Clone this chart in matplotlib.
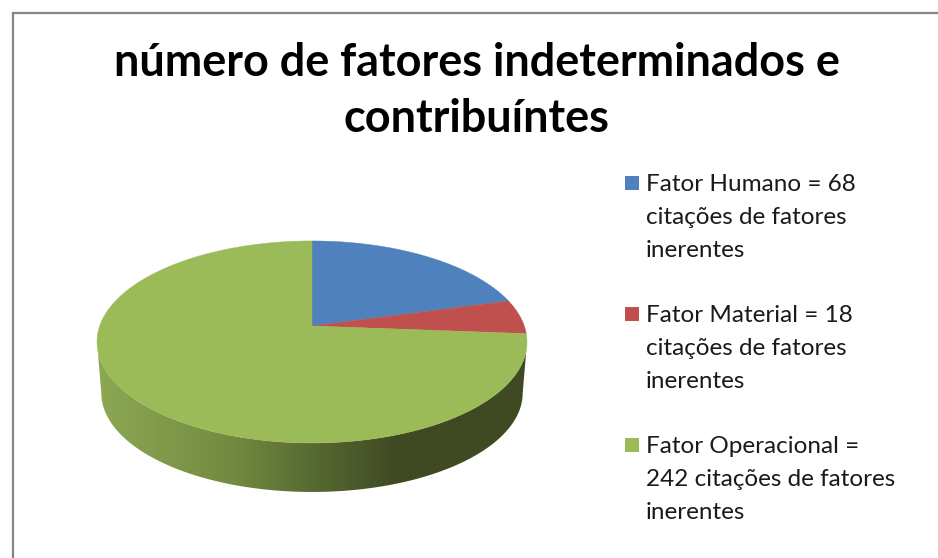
# Recreate the 3D style pie chart
import numpy as np
import matplotlib
matplotlib.use('Agg')
import matplotlib.pyplot as plt
from matplotlib.colors import LinearSegmentedColormap
from matplotlib.patches import PathPatch, Rectangle
from matplotlib.path import Path

plt.rcParams['font.family'] = ['Lato', 'DejaVu Sans']

# Data
title_lines = ['número de fatores indeterminados e', 'contribuíntes']
factor_names = ['Fator Humano', 'Fator Material', 'Fator Operacional']
citations = [68, 18, 242]
legend_lines = [
    ['Fator Humano = 68', 'citações de fatores', 'inerentes'],
    ['Fator Material = 18', 'citações de fatores', 'inerentes'],
    ['Fator Operacional =', '242 citações de fatores', 'inerentes'],
]
colors = ['#4F81BD', '#C0504D', '#9BBB59']

W, H = 938, 558
k = 0.158


# Circle of the pie to picture pixels, with a bit of perspective
def project(u, v):
    d = 1 + k * v
    return 312 + 212.3 * u / d, 326 - 98.5 * v / d


fig = plt.figure(figsize=(W / 100, H / 100), dpi=100)
ax = fig.add_axes([0, 0, 1, 1])
ax.set_xlim(0, W)
ax.set_ylim(H, 0)
ax.axis('off')

# Frame, only top and left show in the crop
ax.plot([13, 13, W], [H, 12.5, 12.5], color='#868686', lw=1.6, solid_joinstyle='miter')

# Side wall of the pie, between the widest points of the rim
t = np.linspace(np.arcsin(k), np.pi - np.arcsin(k), 300)
rim_x, rim_y = project(np.cos(t), -np.sin(t))
low_x = 312 + (rim_x - 312) * 0.98
low_y = 393 + (rim_y - 342) * 0.98
wall = np.column_stack([np.r_[rim_x, low_x[::-1]], np.r_[rim_y, low_y[::-1]]])
wall_patch = PathPatch(Path(np.vstack([wall, wall[0]]), closed=True), transform=ax.transData,
                       fc='none', ec='none')
ax.add_patch(wall_patch)
wall_cmap = LinearSegmentedColormap.from_list('wall', [
    (0.0, '#8CA853'), (0.31, '#738B41'), (0.50, '#576A32'), (0.70, '#3F4922'), (1.0, '#3F4922')])
img = ax.imshow(np.linspace(0, 1, 256).reshape(1, -1), cmap=wall_cmap, aspect='auto',
                extent=(98, 527, 495, 330), zorder=1)
img.set_clip_path(wall_patch)
ax.set_xlim(0, W)
ax.set_ylim(H, 0)

# Top face: each slice runs clockwise from 12 o'clock
edges = np.r_[0, np.cumsum(citations)] / np.sum(citations) * 2 * np.pi
for i in range(len(citations)):
    a = np.linspace(edges[i], edges[i + 1], 300)
    x, y = project(np.sin(a), np.cos(a))
    cx, cy = project(0, 0)
    ax.fill(np.r_[cx, x], np.r_[cy, y], color=colors[i], lw=0.3, zorder=2)

# Title
for line, y in zip(title_lines, [76, 132]):
    ax.text(476.5, y, line, ha='center', va='baseline', fontsize=32.4, fontweight='bold', color='black')

# Legend
for i, lines in enumerate(legend_lines):
    top = 176 + i * 131
    ax.add_patch(Rectangle((625, top), 14, 14, fc=colors[i], ec='none'))
    for j, line in enumerate(lines):
        ax.text(646, top + 15 + j * 33, line, ha='left', va='baseline', fontsize=17.5, color='#1a1a1a')

fig.savefig('out.png', dpi=100)
